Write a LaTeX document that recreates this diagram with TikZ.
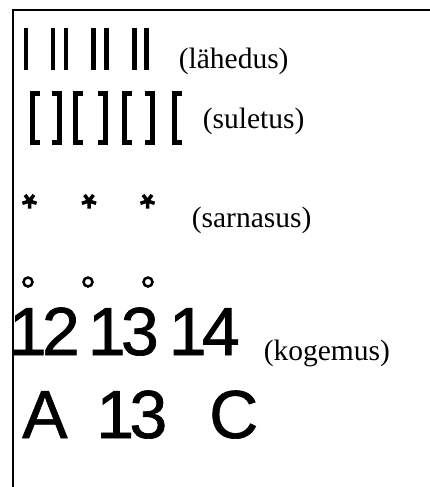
\documentclass[tikz,border=0pt]{standalone}
\usepackage{fontspec}
\setmainfont{Liberation Serif}
\newfontfamily\bigsans[FakeBold=1]{Liberation Sans}
\usetikzlibrary{calc}
\def\openbr(#1,#2){\draw[line width=4.5pt, line cap=butt] ($(#1,#2)+(7.5,0)$) -- (#1,#2) -- (#1,#2+49) -- ($(#1,#2+49)+(7.5,0)$);}
\def\closebr(#1,#2){\draw[line width=4.5pt, line cap=butt] ($(#1,#2)+(-7.5,0)$) -- (#1,#2) -- (#1,#2+49) -- ($(#1,#2+49)+(-7.5,0)$);}
\def\asterisk(#1,#2){\draw[line width=3.5pt] (#1,#2) -- +(90:7.5) (#1,#2) -- +(18:7.5) (#1,#2) -- +(162:7.5) (#1,#2) -- +(234:7.5) (#1,#2) -- +(306:7.5);}

\begin{document}
\begin{tikzpicture}[x=1pt, y=-1pt,
    label/.style={anchor=base west, inner sep=0pt, font=\fontsize{29.5}{30}\selectfont},
    bigchar/.style={anchor=base west, inner sep=0pt, font=\bigsans\fontsize{68}{70}\selectfont}]
			%%%%% START %%%%%
			\useasboundingbox (0, 0) rectangle (430, 487);
			
			% frame
			\draw[line width=2.2pt] (430, 10) -- (13, 10) -- (13, 487);
			
			% proximity
			\draw[line width=4.8pt] (26, 28) -- (26, 70);
			\draw[line width=4.8pt] (53, 28) -- (53, 70);
			\draw[line width=4.8pt] (66, 28) -- (66, 70);
			\draw[line width=4.8pt] (93.5, 28) -- (93.5, 70);
			\draw[line width=4.8pt] (106.5, 28) -- (106.5, 70);
			\draw[line width=4.8pt] (134.5, 28) -- (134.5, 70);
			\draw[line width=4.8pt] (146.5, 28) -- (146.5, 70);
			\node[label] (lahedus) at (178.6, 69) {(lähedus)};
			
			% closure
			\openbr(32.5,93.5)
			\closebr(59.5,93.5)
			\openbr(75.5,93.5)
			\closebr(105.5,93.5)
			\openbr(124.5,93.5)
			\closebr(152.5,93.5)
			\openbr(174.5,93.5)
			\node[label] (suletus) at (202.6, 128) {(suletus)};
			
			% similarity
			\asterisk(29.5,201)
			\asterisk(89,201)
			\asterisk(147.5,201)
			\draw[line width=2.5pt] (28, 282) circle (4.5);
			\draw[line width=2.5pt] (88, 282) circle (4.5);
			\draw[line width=2.5pt] (148, 282) circle (4.5);
			\node[label] (sarnasus) at (191.6, 227) {(sarnasus)};
			
			% experience
			\node[bigchar] (n12) at (8.7, 355) {1\kern-0.07em 2};
			\node[bigchar] (n13) at (87.7, 355) {1\kern-0.07em 3};
			\node[bigchar] (n14) at (168.7, 355) {1\kern-0.07em 4};
			\node[label] (kogemus) at (263.6, 360) {(kogemus)};
			\node[bigchar] (na) at (22, 438) {A};
			\node[bigchar] (nb) at (96.2, 438) {1\kern-0.07em 3};
			\node[bigchar] (nc) at (209, 438) {C};
			
			%%%%% END %%%%%
		\end{tikzpicture}
\end{document}
